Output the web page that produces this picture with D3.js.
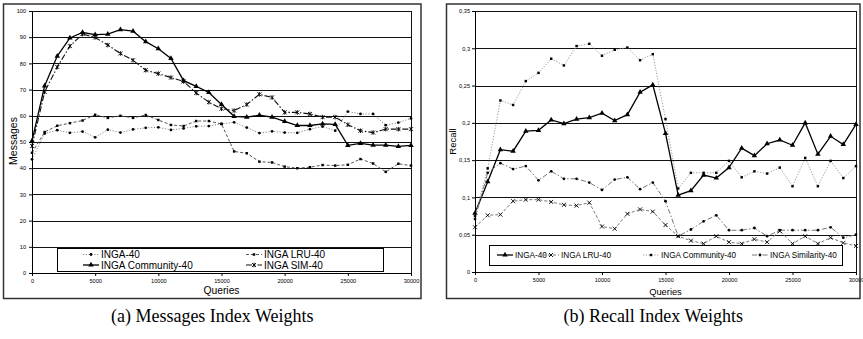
<!DOCTYPE html>
<html>
<head>
<meta charset="utf-8">
<script src="https://cdn.jsdelivr.net/npm/d3@7/dist/d3.min.js"></script>
<style>
  body { margin: 0; background: #fff; }
  svg { display: block; }
  text { font-family: "Liberation Sans", Arial, sans-serif; fill: #000; }
</style>
</head>
<body>
<div id="mydiv"></div>
<script>
// x categories: one measurement every 1000 queries
var queries = [0, 1000, 2000, 3000, 4000, 5000, 6000, 7000, 8000, 9000, 10000,
  11000, 12000, 13000, 14000, 15000, 16000, 17000, 18000, 19000, 20000,
  21000, 22000, 23000, 24000, 25000, 26000, 27000, 28000, 29000, 30000];
var xTicks = [0, 5000, 10000, 15000, 20000, 25000, 30000];

// (a) messages
var msgInga = [43.4, 53.2, 54.5, 53.5, 54, 51.8, 54.7, 53.6, 54.8, 55.4, 55.6,
  54.6, 55.2, 56, 56.1, 56.9, 57.5, 55.5, 53.4, 54.1, 53.6, 53.5, 54.9, 55.9, 54.3,
  61.6, 60.7, 60.7, 56.4, 57.4, 59];
var msgLru = [45.9, 53.8, 56.2, 57.2, 58.2, 60.4, 59.2, 60, 59.2, 60.3, 58.4,
  56.5, 56.1, 58, 58, 56.9, 46.4, 45.7, 42.5, 42.2, 40.6, 40, 40.4, 41.2, 41,
  41.3, 43.5, 41.8, 38.6, 41.7, 41];
var msgCommunity = [50.4, 71.4, 82.8, 89.7, 91.8, 91, 91.2, 92.9, 92.3, 88.3, 85.6,
  81.9, 73.4, 71.2, 68.9, 64.3, 59.8, 59.5, 60.2, 59.5, 57.9, 56.3, 56.3, 56.9, 56.7,
  48.7, 49.5, 48.8, 48.8, 48.3, 48.7];
var msgSim = [48.5, 69.1, 78.6, 86.6, 91.2, 89.9, 87, 83.8, 81.2, 77.4, 76.1,
  74.6, 73.1, 68.7, 65.2, 62.7, 62, 64.3, 68.2, 67, 61.3, 61.3, 60.7, 59.5, 59.5,
  56.6, 54.3, 53.6, 54.9, 54.9, 54.9];
var msgTicks = [0, 10, 20, 30, 40, 50, 60, 70, 80, 90, 100];
var msgLabels = ["INGA-40", "INGA LRU-40", "INGA Community-40", "INGA SIM-40"];

// (b) recall
var recInga = [0.079, 0.121, 0.164, 0.162, 0.189, 0.190, 0.204, 0.199, 0.205, 0.207, 0.213,
  0.203, 0.211, 0.241, 0.251, 0.186, 0.103, 0.109, 0.130, 0.126, 0.140,
  0.166, 0.156, 0.172, 0.177, 0.170, 0.200, 0.158, 0.182, 0.171, 0.198];
var recLru = [0.060, 0.076, 0.077, 0.095, 0.097, 0.097, 0.094, 0.090, 0.089, 0.093, 0.061,
  0.058, 0.078, 0.084, 0.081, 0.063, 0.048, 0.042, 0.038, 0.048, 0.040,
  0.038, 0.044, 0.040, 0.055, 0.038, 0.048, 0.038, 0.046, 0.039, 0.035];
var recCommunity = [0.075, 0.139, 0.230, 0.224, 0.256, 0.267, 0.286, 0.277, 0.303, 0.306, 0.290,
  0.298, 0.301, 0.284, 0.292, 0.205, 0.112, 0.133, 0.133, 0.133, 0.149,
  0.127, 0.135, 0.132, 0.140, 0.115, 0.153, 0.115, 0.149, 0.126, 0.142];
var recSimilarity = [0.071, 0.133, 0.146, 0.138, 0.142, 0.123, 0.135, 0.125, 0.125, 0.120, 0.110,
  0.124, 0.127, 0.111, 0.120, 0.095, 0.048, 0.057, 0.068, 0.076, 0.056,
  0.056, 0.059, 0.048, 0.056, 0.056, 0.056, 0.056, 0.060, 0.046, 0.050];
var recTicks = [0, 0.05, 0.1, 0.15, 0.2, 0.25, 0.3, 0.35];
var recLabels = ["INGA-40", "INGA LRU-40", "INGA Community-40", "INGA Similarity-40"];

var captions = ["(a) Messages Index Weights", "(b) Recall Index Weights"];

var svg = d3.select("#mydiv").append("svg")
  .attr("width", 863)
  .attr("height", 339)
  .style("background-color", "white");

function markerPath(type) {
  if (type == "x") return "M-2,-2L2,2M-2,2L2,-2M0,-2.3L0,2.3";
  if (type == "cross") return "M-2,-2L2,2M-2,2L2,-2";
  var t = {tri: d3.symbolTriangle, square: d3.symbolSquare, dot: d3.symbolCircle}[type];
  var s = {tri: 13, square: 6, dot: 6}[type];
  return d3.symbol().type(t).size(s)();
}

function addMarker(g, type, x, y) {
  var stroked = (type == "x" || type == "cross");
  g.append("path")
    .attr("d", markerPath(type))
    .attr("transform", "translate(" + x + "," + y + ")")
    .attr("fill", stroked ? "none" : "#000")
    .attr("stroke", stroked ? "#000" : "none")
    .attr("stroke-width", 0.9);
}

function drawChart(cfg) {
  var g = svg.append("g");

  // frame of the whole chart
  g.append("rect")
    .attr("x", cfg.frame[0]).attr("y", cfg.frame[1])
    .attr("width", cfg.frame[2] - cfg.frame[0])
    .attr("height", cfg.frame[3] - cfg.frame[1])
    .attr("fill", "#fff").attr("stroke", "#333").attr("stroke-width", 1.5);

  var x = d3.scaleLinear().domain([0, 30000]).range([cfg.left, cfg.right]);
  var y = d3.scaleLinear().domain([cfg.yTicks[0], cfg.yTicks[cfg.yTicks.length - 1]])
    .range([cfg.bottom, cfg.top]);

  // horizontal grid
  g.selectAll(".grid")
    .data(cfg.yTicks.slice(1))
    .enter().append("line")
    .attr("class", "grid")
    .attr("x1", cfg.left).attr("x2", cfg.right)
    .attr("y1", function(d) { return Math.round(y(d)) + 0.5; })
    .attr("y2", function(d) { return Math.round(y(d)) + 0.5; })
    .attr("stroke", "#111").attr("stroke-width", 1);

  // right edge of plot area
  g.append("line")
    .attr("x1", Math.round(cfg.right) + 0.5).attr("x2", Math.round(cfg.right) + 0.5)
    .attr("y1", cfg.top).attr("y2", cfg.bottom)
    .attr("stroke", "#111");

  // series
  var line = d3.line()
    .x(function(d, i) { return x(queries[i]); })
    .y(function(d) { return y(d); });

  cfg.series.forEach(function(s) {
    g.append("path")
      .datum(s.values)
      .attr("d", line)
      .attr("fill", "none")
      .attr("stroke", s.color)
      .attr("stroke-width", s.width)
      .attr("stroke-dasharray", s.dash);
    s.values.forEach(function(v, i) {
      addMarker(g, s.marker, x(queries[i]), y(v));
    });
  });

  // axes
  var yAxis = d3.axisLeft(y).tickValues(cfg.yTicks).tickSize(3).tickSizeOuter(0)
    .tickPadding(cfg.yPad).tickFormat(cfg.yFormat);
  var ya = g.append("g").attr("transform", "translate(" + Math.round(cfg.left) + ",0)").call(yAxis);
  var xAxis = d3.axisBottom(x).tickValues(xTicks).tickSize(3).tickSizeOuter(0)
    .tickPadding(3).tickFormat(d3.format("d"));
  var xa = g.append("g").attr("transform", "translate(0," + Math.round(cfg.bottom) + ")").call(xAxis);
  [ya, xa].forEach(function(a) {
    a.selectAll("path, line").attr("stroke", "#000");
    a.selectAll("text").style("font-size", "5.6px").style("fill", "#000");
  });

  // axis titles
  g.append("text")
    .attr("transform", "translate(" + cfg.yTitlePos[0] + "," + cfg.yTitlePos[1] + ") rotate(-90)")
    .attr("text-anchor", "middle")
    .style("font-size", cfg.titleSize + "px")
    .text(cfg.yTitle);
  g.append("text")
    .attr("x", (cfg.left + cfg.right) / 2).attr("y", cfg.xTitleY)
    .attr("text-anchor", "middle")
    .style("font-size", cfg.xTitleSize + "px")
    .text("Queries");

  // legend
  var lb = cfg.legendBox;
  g.append("rect")
    .attr("x", lb[0] + 0.5).attr("y", lb[1] + 0.5)
    .attr("width", lb[2] - lb[0]).attr("height", lb[3] - lb[1])
    .attr("fill", "#fff").attr("stroke", "#000").attr("stroke-width", 1);
  cfg.series.forEach(function(s, i) {
    var p = cfg.legendPos[i];
    g.append("line")
      .attr("x1", p[0]).attr("x2", p[0] + cfg.sampleLen)
      .attr("y1", p[1]).attr("y2", p[1])
      .attr("stroke", s.color).attr("stroke-width", s.width)
      .attr("stroke-dasharray", s.dash);
    addMarker(g, s.marker, p[0] + cfg.sampleLen / 2, p[1]);
    g.append("text")
      .attr("x", p[0] + cfg.sampleLen + 2).attr("y", p[1] + cfg.legendSize * 0.36)
      .style("font-size", cfg.legendSize + "px")
      .text(s.label);
  });

  // caption under the chart
  g.append("text")
    .attr("x", (cfg.frame[0] + cfg.frame[2]) / 2).attr("y", 322)
    .attr("text-anchor", "middle")
    .style("font-family", "'Liberation Serif', 'Times New Roman', serif")
    .style("font-size", "18px")
    .text(cfg.caption);
}

function commaFormat(d) {
  return d3.format(".2~f")(d).replace(".", ",");
}

drawChart({
  frame: [3.5, 4, 421, 298.5],
  left: 32, right: 411, top: 11, bottom: 273,
  yTicks: msgTicks, yFormat: d3.format("d"), yPad: 3,
  yTitle: "Messages", yTitlePos: [16.5, 141], titleSize: 10.5,
  xTitleY: 294, xTitleSize: 10.3,
  legendBox: [57, 248, 383, 271],
  legendPos: [[83, 254.5], [246, 254.5], [83, 265], [246, 265]],
  sampleLen: 16, legendSize: 10,
  caption: captions[0],
  series: [
    {label: msgLabels[0], values: msgInga, color: "#888", width: 1, dash: "1.2,1.6", marker: "dot"},
    {label: msgLabels[1], values: msgLru, color: "#555", width: 1, dash: "3,2", marker: "square"},
    {label: msgLabels[2], values: msgCommunity, color: "#000", width: 1.3, dash: null, marker: "tri"},
    {label: msgLabels[3], values: msgSim, color: "#111", width: 1.1, dash: "6,2,1.5,2", marker: "x"}
  ]
});

drawChart({
  frame: [446.5, 4, 860, 298.5],
  left: 475, right: 856, top: 11, bottom: 272,
  yTicks: recTicks, yFormat: commaFormat, yPad: 2,
  yTitle: "Recall", yTitlePos: [455.5, 141.5], titleSize: 9.5,
  xTitleY: 295, xTitleSize: 9.3,
  legendBox: [489, 245, 842, 265],
  legendPos: [[497, 255], [543, 255], [643, 255], [752, 255]],
  sampleLen: 16, legendSize: 8.2,
  caption: captions[1],
  series: [
    {label: recLabels[0], values: recInga, color: "#000", width: 1.3, dash: null, marker: "tri"},
    {label: recLabels[1], values: recLru, color: "#777", width: 1, dash: "3,2", marker: "cross"},
    {label: recLabels[2], values: recCommunity, color: "#999", width: 1, dash: "1.2,1.6", marker: "square"},
    {label: recLabels[3], values: recSimilarity, color: "#777", width: 1, dash: "5,2,1.5,2", marker: "dot"}
  ]
});
</script>
</body>
</html>
